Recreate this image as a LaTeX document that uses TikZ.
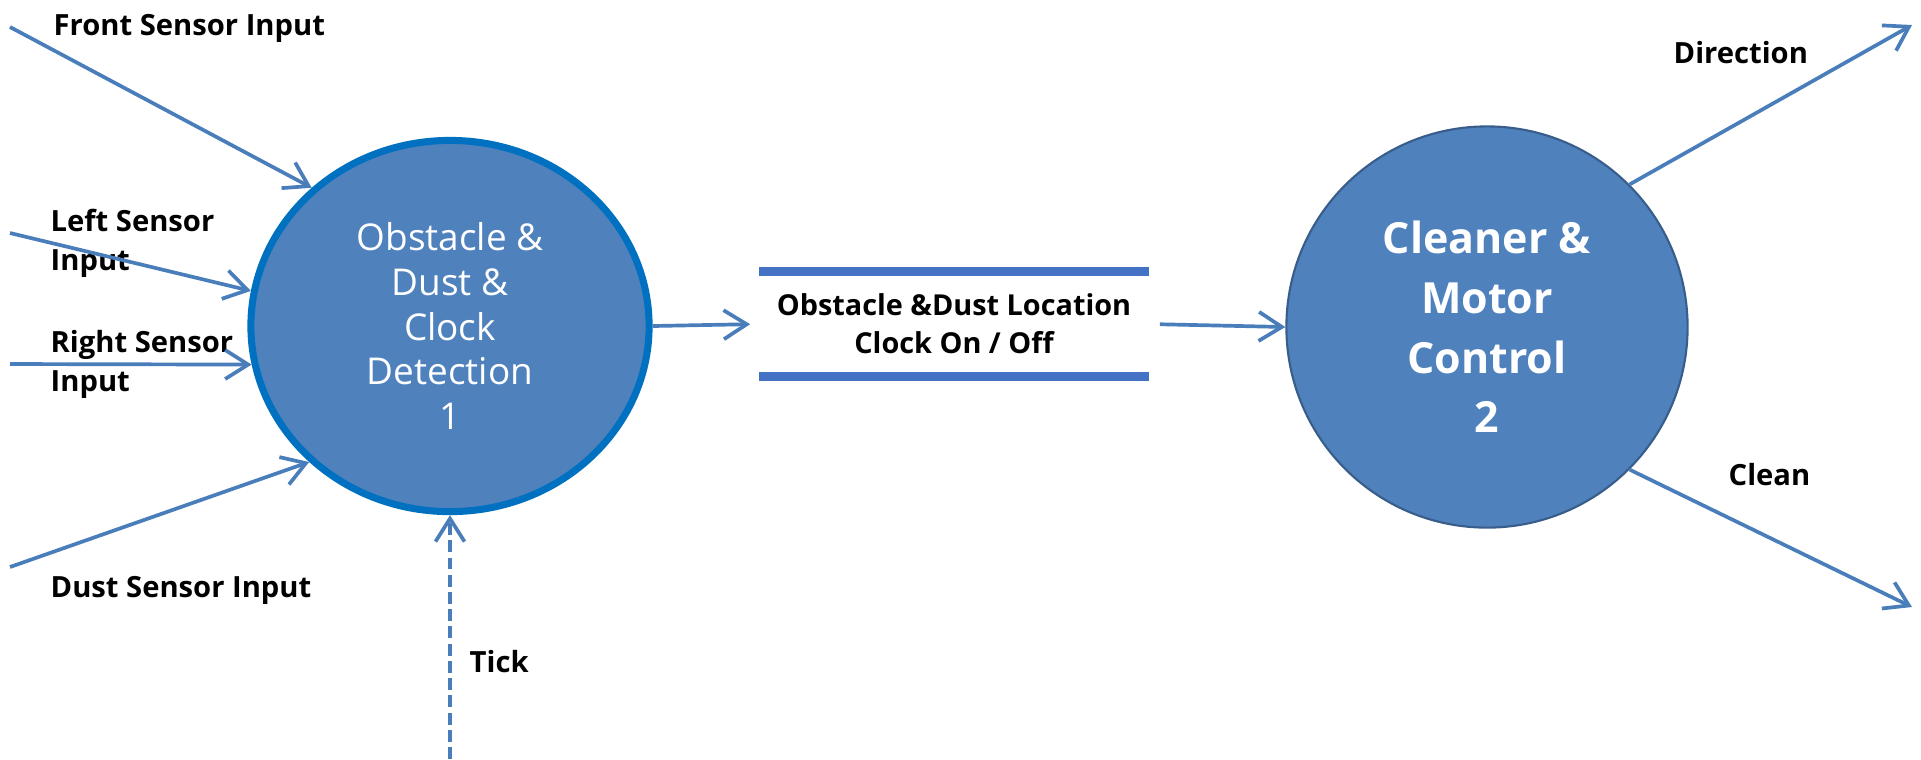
\documentclass[tikz,border=0pt]{standalone}
\usepackage{fontspec}
\setmainfont{Open Sans}
\usetikzlibrary{arrows.meta}
\usetikzlibrary{shapes.geometric}

\definecolor{flowblue}{HTML}{4A7EBB}
\definecolor{procfill}{HTML}{4F81BD}
\definecolor{procedge}{HTML}{0070C0}
\definecolor{ctrledge}{HTML}{385D8A}
\definecolor{barblue}{HTML}{4472C4}

\begin{document}
\begin{tikzpicture}[x=0.01cm, y=-0.01cm,
    >={Straight Barb[length=2.3mm,width=2.9mm]},
    flow/.style={color=flowblue, line width=1.05pt},
    lbl/.style={anchor=base west, inner sep=0pt, align=left,
      font=\fontsize{8.3}{11}\selectfont\bfseries},
    obstnode/.style={ellipse, draw=procedge, fill=procfill, line width=2pt,
      minimum width=3.98cm, minimum height=3.71cm, inner sep=0pt,
      text=white, align=center, font=\fontsize{10.5}{12.7}\selectfont},
    ctrlnode/.style={circle, draw=ctrledge, fill=procfill, line width=0.6pt,
      minimum size=4.01cm, inner sep=0pt,
      text=white, align=center, font=\fontsize{12.2}{17}\selectfont\bfseries},
    storenode/.style={minimum width=3.88cm, minimum height=1.035cm, inner sep=0pt,
      align=center, font=\fontsize{8.2}{10.8}\selectfont\bfseries},
    storebar/.style={draw=barblue, line width=2.6pt}]
    \useasboundingbox (0,0) rectangle (1921,759);

    \node[obstnode] (obst) at (450,326) {Obstacle \&\\Dust \&\\Clock\\Detection\\1};
    \node[ctrlnode] (ctrl) at (1487,327) {Cleaner \&\\Motor\\Control\\2};
    \node[storenode] (store) at (954,324) {Obstacle \&Dust Location\\Clock On / Off};

    \draw[storebar] (store.north west) -- (store.north east);
    \draw[storebar] (store.south west) -- (store.south east);

    \node[lbl] (front) at (53,35) {Front Sensor Input};
    \node[lbl] (left) at (50,270) {Left Sensor\\Input};
    \node[lbl] (right) at (50,391) {Right Sensor\\Input};
    \node[lbl] (dust) at (50,597) {Dust Sensor Input};
    \node[lbl] (tick) at (469,672) {Tick};
    \node[lbl] (dir) at (1673,63) {Direction};
    \node[lbl] (clean) at (1728,485) {Clean};

    \coordinate (fsrc) at (10,27);
    \coordinate (lsrc) at (10,233);
    \coordinate (rsrc) at (10,364);
    \coordinate (dsrc) at (10,567);
    \coordinate (tsrc) at (450,759);
    \coordinate (dirend) at (1912,25);
    \coordinate (cleanend) at (1912,607);

    \path[flow,->] (fsrc) edge (obst.135);
    \path[flow,->] (lsrc) edge (obst.170);
    \path[flow,->] (rsrc) edge (obst.191);
    \path[flow,->] (dsrc) edge (obst.224);
    \path[flow,->,dash pattern=on 3.4pt off 1.5pt] (tsrc) edge (obst.south);

    \path[flow,->] (obst.east) edge[shorten >=0.09cm] (store.west);
    \path[flow,->] (store.east) edge[shorten <=0.11cm] (ctrl.west);

    \path[flow,->] (ctrl.45) edge (dirend);
    \path[flow,->] (ctrl.-45) edge (cleanend);
  \end{tikzpicture}
\end{document}
